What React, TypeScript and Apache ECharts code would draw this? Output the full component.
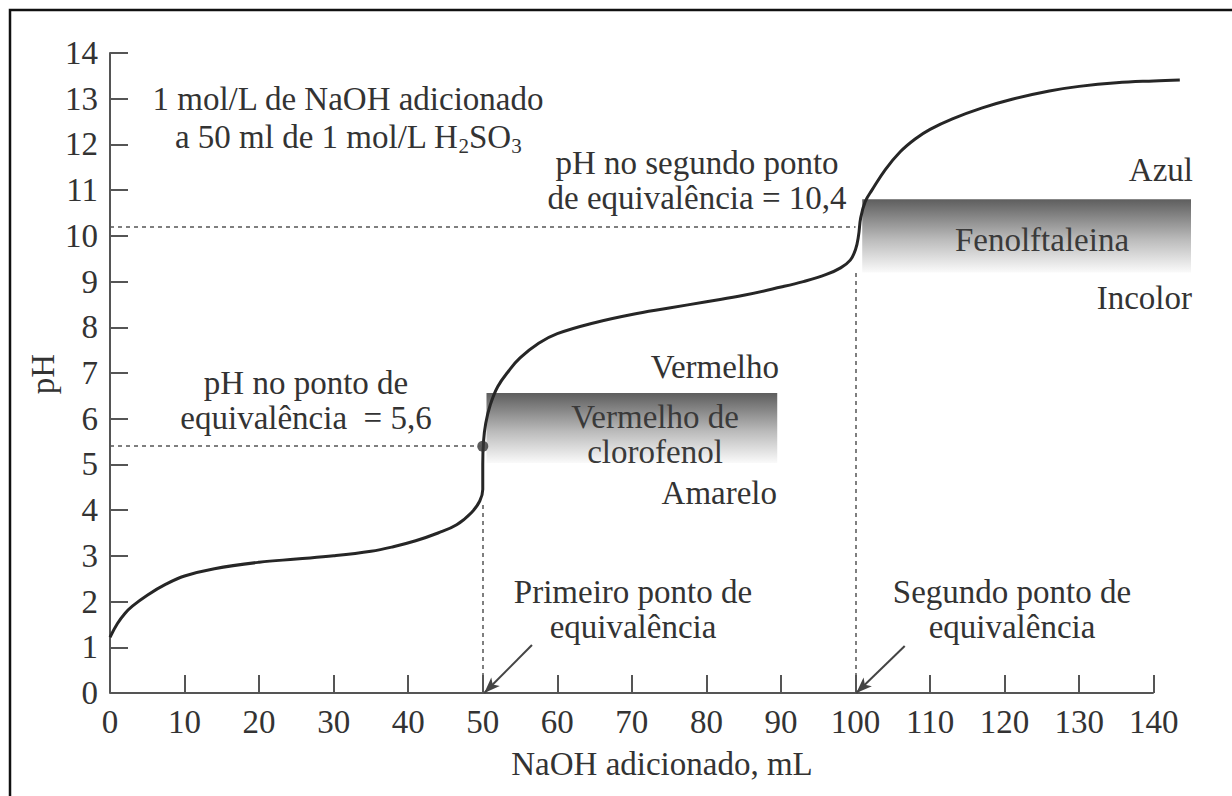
import React, { useEffect, useRef } from "react";
import * as echarts from "echarts";

// ---- data ----
const volumeML = [
  0, 1, 2, 3, 5, 7.5, 10, 14, 20, 25, 30, 35, 38, 41, 44, 46.5, 48.5, 49.6, 50, 50, 50.1, 50.4, 51, 52,
  53.5, 55, 57.5, 60, 65, 70, 75, 80, 85, 90, 93, 96, 98, 99.3, 100, 100.4, 100.7, 101.3, 102.2, 104,
  106, 108, 110, 113, 117, 121, 126, 130, 135, 140, 143.5,
];
const pHValues = [
  1.22, 1.52, 1.74, 1.9, 2.14, 2.38, 2.56, 2.72, 2.86, 2.93, 3.0, 3.1, 3.2, 3.33, 3.5, 3.68, 3.95, 4.2, 4.45,
  5.0, 5.5, 5.9, 6.3, 6.7, 7.05, 7.33, 7.65, 7.86, 8.1, 8.28, 8.42, 8.56, 8.7, 8.88, 9.0, 9.15, 9.3, 9.47,
  9.7, 10.0, 10.4, 10.75, 11.0, 11.45, 11.84, 12.12, 12.33, 12.56, 12.8, 12.99, 13.17, 13.27, 13.35, 13.39,
  13.41,
];
const xTickValues = [0, 10, 20, 30, 40, 50, 60, 70, 80, 90, 100, 110, 120, 130, 140];
const xAxisEnd = 140;
const yMin = 0;
const yMax = 14;
const yInterval = 1;

const firstEquivalence = [50, 5.4];
const firstEqCurveFoot = 4.2;
const secondEquivalence = [100, 10.2];
const secondEqCurveFoot = 9.2;

const redBandX = [50.5, 89.5];
const redBandPH = [5.03, 6.56];
const phenolBandX = [100.9, 145];
const phenolBandPH = [9.2, 10.8];

const arrow1 = [
  [56.6, 1.05],
  [50.2, 0],
];
const arrow2 = [
  [106.6, 1.03],
  [100.1, 0],
];

const FONT = "'Liberation Serif', 'Times New Roman', serif";
const TXT = "#333";

export default function App() {
  const ref = useRef<HTMLDivElement>(null);

  useEffect(() => {
    const chart = echarts.init(ref.current!, null, { renderer: "svg" });
    const curve = volumeML.map((v, i) => [v, pHValues[i]]);

    const bandGradient = () =>
      new echarts.graphic.LinearGradient(0, 0, 0, 1, [
        { offset: 0, color: "#5e5e5e" },
        { offset: 0.15, color: "#777" },
        { offset: 0.55, color: "#bbb" },
        { offset: 1, color: "#fafafa" },
      ]);

    const dash = { color: "#555", type: [4, 4] as any, width: 1.5 };

    const txt = (
      text: string,
      x: number,
      y: number,
      align: string = "center",
      extra: any = {}
    ) => ({
      type: "text",
      x,
      y,
      silent: true,
      z: 50,
      style: {
        text,
        fill: TXT,
        font: `33px ${FONT}`,
        align,
        textAlign: align,
        verticalAlign: "middle",
        textVerticalAlign: "middle",
        lineHeight: 35,
        ...extra,
      },
    });

    const option: any = {
      animation: false,
      backgroundColor: "#fff",
      grid: { left: 110, right: 41, top: 53, bottom: 103, containLabel: false },
      xAxis: {
        type: "value",
        min: 0,
        max: 145,
        axisLine: { show: false },
        axisTick: {
          show: true,
          inside: true,
          length: 18,
          customValues: xTickValues,
          lineStyle: { color: "#555", width: 2 },
        },
        axisLabel: {
          customValues: xTickValues,
          margin: 12,
          fontSize: 33,
          fontFamily: FONT,
          color: TXT,
        },
        splitLine: { show: false },
      },
      yAxis: {
        type: "value",
        min: yMin,
        max: yMax,
        interval: yInterval,
        axisLine: { show: true, lineStyle: { color: "#555", width: 2 } },
        axisTick: { show: true, inside: true, length: 18, lineStyle: { color: "#555", width: 2 } },
        axisLabel: { margin: 12, fontSize: 33, fontFamily: FONT, color: TXT },
        splitLine: { show: false },
      },
      series: [
        {
          type: "line",
          name: "bands",
          data: [],
          z: 1,
          markArea: {
            silent: true,
            label: { show: false },
            data: [
              [
                { coord: [redBandX[0], redBandPH[1]], itemStyle: { color: bandGradient() } },
                { coord: [redBandX[1], redBandPH[0]] },
              ],
              [
                { coord: [phenolBandX[0], phenolBandPH[1]], itemStyle: { color: bandGradient() } },
                { coord: [phenolBandX[1], phenolBandPH[0]] },
              ],
            ],
          },
        },
        {
          type: "line",
          name: "pH",
          data: curve,
          smooth: 0.4,
          showSymbol: false,
          symbol: "none",
          z: 3,
          lineStyle: { color: "#262626", width: 3 },
          markLine: {
            silent: true,
            symbol: ["none", "none"],
            label: { show: false },
            data: [
              [
                { coord: [0, 0], lineStyle: { color: "#555", width: 2, type: "solid" } },
                { coord: [xAxisEnd, 0] },
              ],
              [
                { coord: [0, firstEquivalence[1]], lineStyle: dash },
                { coord: [firstEquivalence[0], firstEquivalence[1]] },
              ],
              [
                { coord: [firstEquivalence[0], 0], lineStyle: dash },
                { coord: [firstEquivalence[0], firstEqCurveFoot] },
              ],
              [
                { coord: [0, secondEquivalence[1]], lineStyle: dash },
                { coord: [secondEquivalence[0], secondEquivalence[1]] },
              ],
              [
                { coord: [secondEquivalence[0], 0], lineStyle: dash },
                { coord: [secondEquivalence[0], secondEqCurveFoot] },
              ],
              [
                {
                  coord: arrow1[0],
                  symbol: "none",
                  lineStyle: { color: "#444", width: 2, type: "solid" },
                },
                { coord: arrow1[1], symbol: "arrow", symbolSize: [9, 16] },
              ],
              [
                {
                  coord: arrow2[0],
                  symbol: "none",
                  lineStyle: { color: "#444", width: 2, type: "solid" },
                },
                { coord: arrow2[1], symbol: "arrow", symbolSize: [9, 16] },
              ],
            ],
          },
        },
        {
          type: "scatter",
          data: [firstEquivalence],
          symbolSize: 11,
          z: 4,
          itemStyle: { color: "#333" },
        },
      ],
      graphic: {
        elements: [
          {
            type: "rect",
            shape: { x: 10, y: 10, width: 1240, height: 800 },
            style: { fill: "none", stroke: "#111", lineWidth: 2.5 },
            silent: true,
            z: 60,
          },
          {
            type: "text",
            x: 43,
            y: 374,
            rotation: Math.PI / 2,
            silent: true,
            style: {
              text: "pH",
              fill: TXT,
              font: `33px ${FONT}`,
              align: "center",
              textAlign: "center",
              verticalAlign: "middle",
              textVerticalAlign: "middle",
            },
          },
          txt("NaOH adicionado, mL", 662, 764),
          txt("1 mol/L de NaOH adicionado", 348, 99),
          {
            type: "text",
            x: 348,
            y: 137,
            silent: true,
            style: {
              text: "a 50 ml de 1 mol/L H{sub|2}SO{sub|3}",
              fill: TXT,
              font: `33px ${FONT}`,
              align: "center",
              textAlign: "center",
              verticalAlign: "middle",
              textVerticalAlign: "middle",
              lineHeight: 38,
              rich: {
                sub: {
                  fontSize: 21,
                  fontFamily: FONT,
                  fill: TXT,
                  lineHeight: 18,
                  verticalAlign: "bottom",
                },
              },
            },
          },
          txt("pH no segundo ponto\nde equivalência = 10,4", 697, 180),
          txt("Azul", 1193, 170, "right"),
          txt("Fenolftaleina", 1042, 240, "center", { fill: "#3a3a3a" }),
          txt("Incolor", 1192, 298, "right"),
          txt("Vermelho", 779, 367, "right"),
          txt("Vermelho de\nclorofenol", 655, 434.5, "center", { fill: "#3a3a3a" }),
          txt("Amarelo", 777, 493, "right"),
          txt("pH no ponto de\nequivalência  = 5,6", 306, 400.5),
          txt("Primeiro ponto de\nequivalência", 633, 609.5),
          txt("Segundo ponto de\nequivalência", 1012, 609),
        ],
      },
    };

    chart.setOption(option);
    return () => chart.dispose();
  }, []);

  return (
    <div
      ref={ref}
      style={{ position: "fixed", left: 0, top: 0, width: 1232, height: 796, background: "#fff" }}
    />
  );
}
